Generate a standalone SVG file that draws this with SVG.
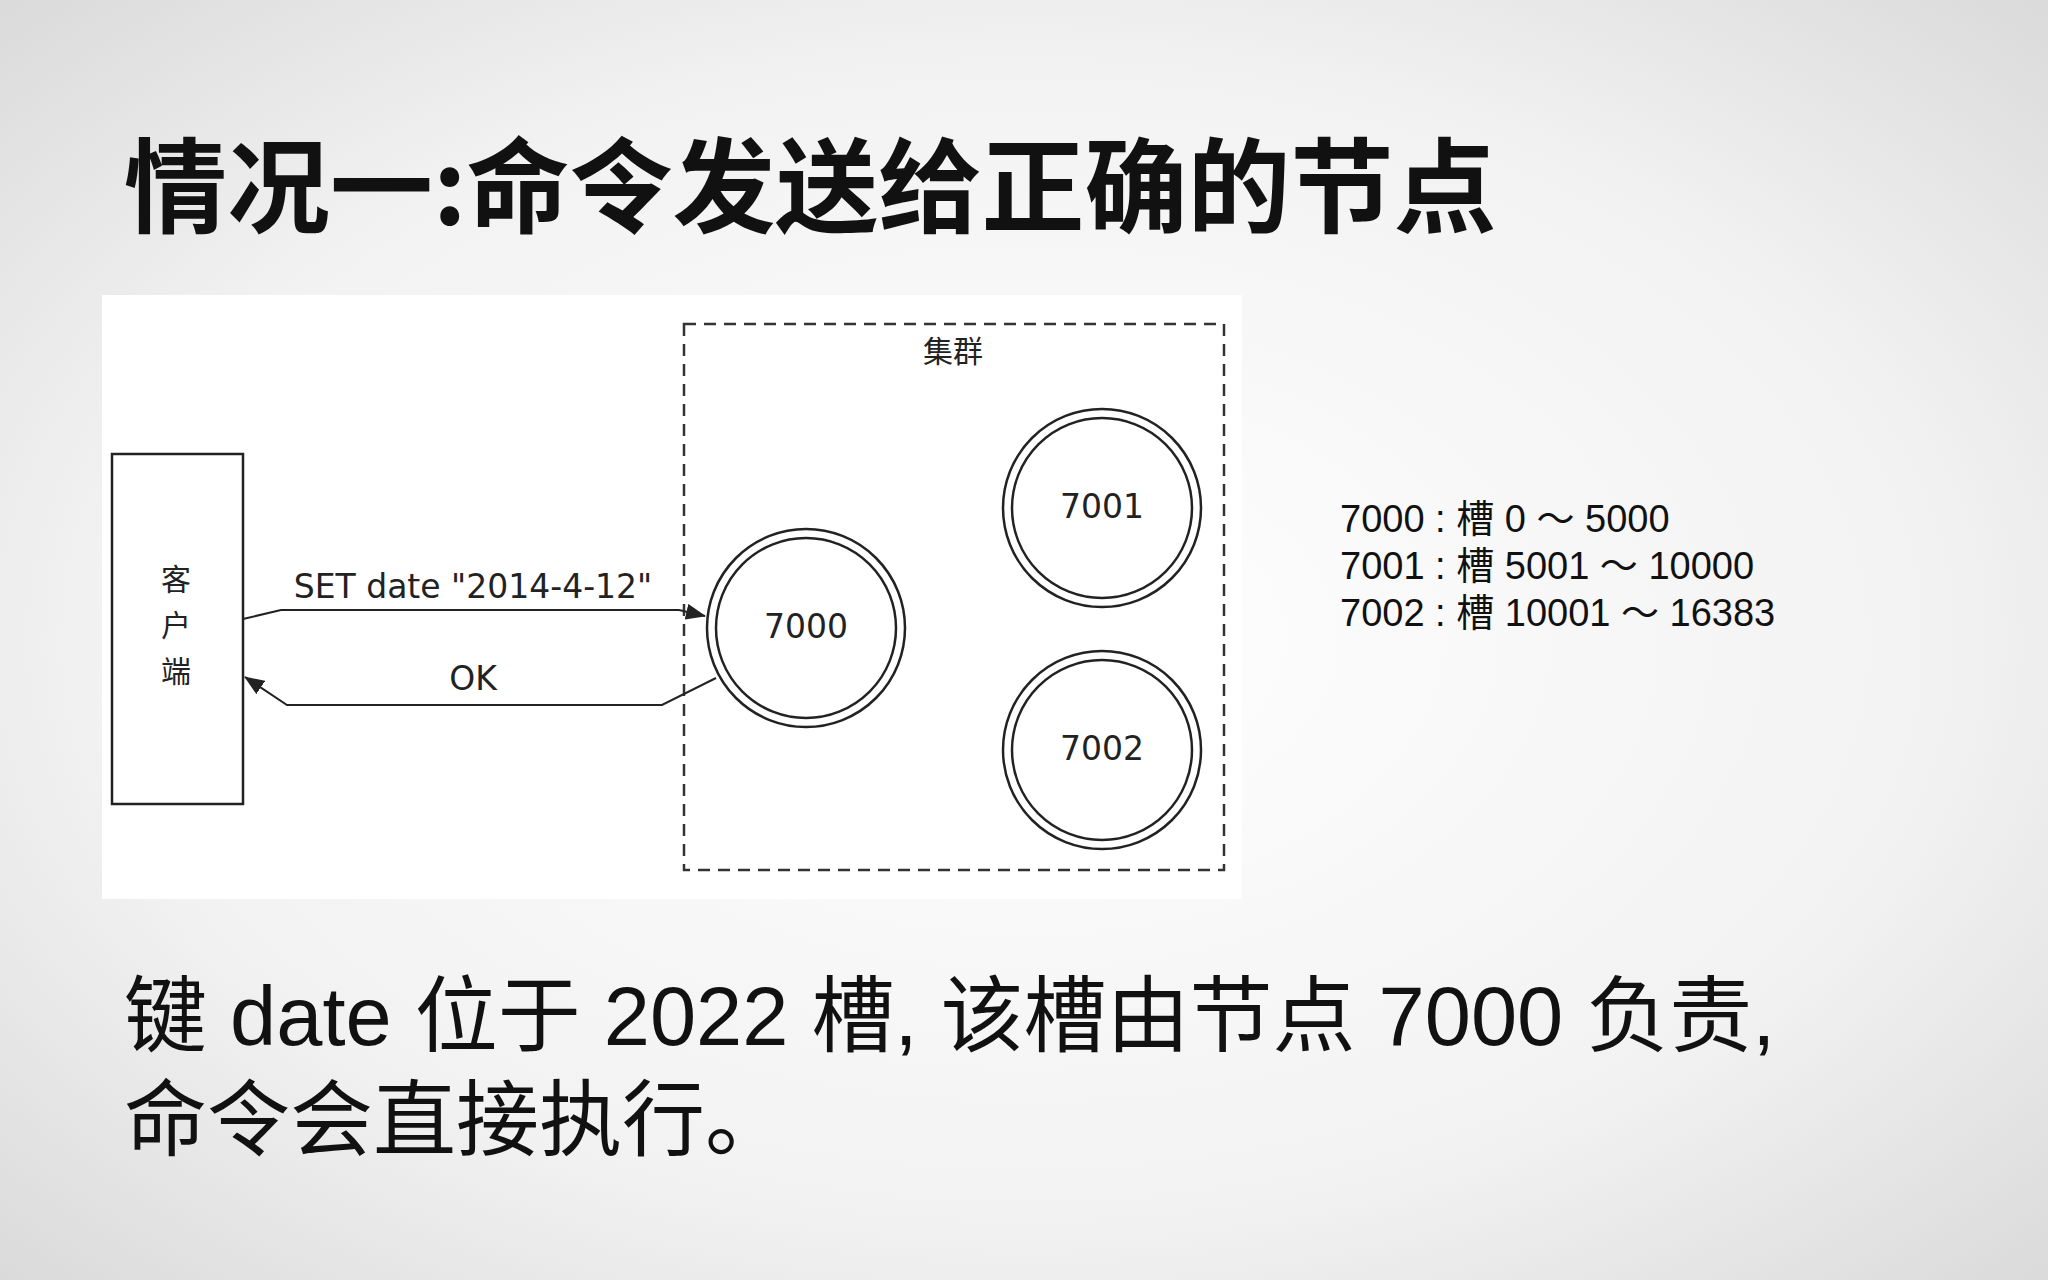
<svg xmlns="http://www.w3.org/2000/svg" width="2048" height="1280" viewBox="0 0 2048 1280">
<defs>
<radialGradient id="bg" cx="0.5" cy="0.5" r="0.75">
<stop offset="0" stop-color="#ffffff"/><stop offset="0.6" stop-color="#f2f2f2"/><stop offset="1" stop-color="#d6d6d6"/>
</radialGradient>
<marker id="ah" markerWidth="20" markerHeight="16" refX="19" refY="8" orient="auto" markerUnits="userSpaceOnUse">
<path d="M0,0 L20,8 L0,16 z" fill="#222"/>
</marker>
<style>
.t{font-family:"DejaVu Sans","Noto Sans CJK SC",sans-serif;fill:#222}
.n{fill:#fff;stroke:#222;stroke-width:2.5}
.c{fill:none;stroke:#222;stroke-width:2}
</style>
</defs>
<rect width="2048" height="1280" fill="url(#bg)"/>
<text x="124" y="225" font-family="'Noto Sans CJK SC',sans-serif" font-weight="bold" font-size="103" fill="#111">情况一:命令发送给正确的节点</text>
<rect x="102" y="295" width="1140" height="604" fill="#fff"/>
<g id="cluster"><rect x="684" y="324" width="540" height="546" fill="none" stroke="#333" stroke-width="2.5" stroke-dasharray="12,8"/>
<text class="t" x="953" y="362" font-size="30" text-anchor="middle">集群</text></g>
<g id="client"><rect x="112" y="454" width="131" height="350" class="n"/>
<text class="t" x="176" y="590" font-size="30" text-anchor="middle">客</text>
<text class="t" x="176" y="636" font-size="30" text-anchor="middle">户</text>
<text class="t" x="176" y="682" font-size="30" text-anchor="middle">端</text></g>
<g id="n7000"><circle cx="806" cy="628" r="99" class="n"/><circle cx="806" cy="628" r="90" class="n"/>
<text class="t" x="806" y="638" font-size="33" text-anchor="middle">7000</text></g>
<g id="n7001"><circle cx="1102" cy="508" r="99" class="n"/><circle cx="1102" cy="508" r="90" class="n"/>
<text class="t" x="1102" y="518" font-size="33" text-anchor="middle">7001</text></g>
<g id="n7002"><circle cx="1102" cy="750" r="99" class="n"/><circle cx="1102" cy="750" r="90" class="n"/>
<text class="t" x="1102" y="760" font-size="33" text-anchor="middle">7002</text></g>
<g id="connectors">
<polyline class="c" points="243,619 281,610 679,610 705,616" marker-end="url(#ah)"/>
<polyline class="c" points="716,678 662,705 287,705 245,677" marker-end="url(#ah)"/>
<text class="t" x="473" y="598" font-size="33" text-anchor="middle">SET date "2014-4-12"</text>
<text class="t" x="473" y="690" font-size="33" text-anchor="middle">OK</text>
</g>
<g font-family="'Liberation Sans','Noto Sans CJK SC',sans-serif" font-size="38" fill="#111">
<text x="1340" y="532">7000 : 槽 0 ～ 5000</text>
<text x="1340" y="579">7001 : 槽 5001 ～ 10000</text>
<text x="1340" y="626">7002 : 槽 10001 ～ 16383</text>
</g>
<g font-family="'Liberation Sans','Noto Sans CJK SC',sans-serif" font-size="83" fill="#111">
<text x="124" y="1045">键 date 位于 2022 槽, 该槽由节点 7000 负责,</text>
<text x="124" y="1149">命令会直接执行。</text>
</g>
</svg>
